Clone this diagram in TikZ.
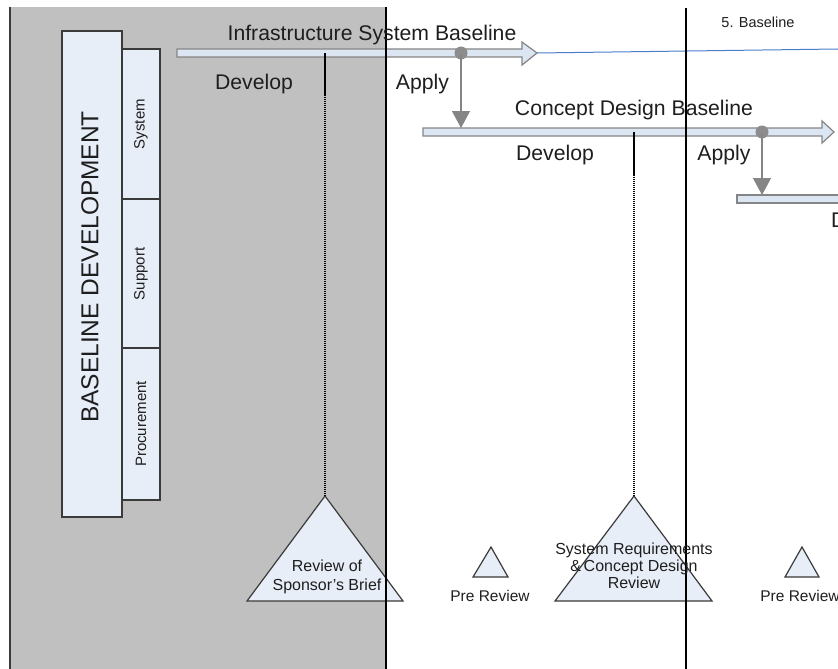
\documentclass[tikz,border=0pt]{standalone}
\usepackage{fontspec}
\setmainfont{Liberation Sans}
\usetikzlibrary{arrows.meta}

\definecolor{panel}{HTML}{C0C0C0}
\definecolor{boxfill}{HTML}{E8EEF8}
\definecolor{barfill}{HTML}{DCE6F2}
\definecolor{barline}{HTML}{858585}
\definecolor{dotgray}{HTML}{8C8C8C}
\definecolor{ink}{HTML}{1E1E1E}
\definecolor{edge}{HTML}{3A3A3A}
\definecolor{linkblue}{HTML}{4A7EC8}

\tikzset{
  lbl/.style={font=\fontsize{21.2}{25}\selectfont, text=ink, inner sep=0, anchor=base},
  revlbl/.style={font=\fontsize{16}{19}\selectfont, text=ink, inner sep=0, align=center},
  prelbl/.style={font=\fontsize{15.5}{18}\selectfont, text=ink, inner sep=0, anchor=base},
  sidebox/.style={draw=edge, line width=1.2pt, fill=boxfill},
  sidelbl/.style={font=\fontsize{15}{18}\selectfont, text=ink, inner sep=0, rotate=90},
  baseline bar/.style={draw=barline, line width=1.2pt, fill=barfill},
  hub/.style={circle, fill=dotgray, minimum size=13pt, inner sep=0},
  drop/.style={draw=barline, line width=1.3pt, -{Triangle[length=17pt,width=18pt]}, shorten <=2pt},
  milestone/.style={draw=edge, line width=1.2pt, fill=boxfill},
  solidlink/.style={draw=black, line width=1.1pt},
  dotlink/.style={draw=black, line width=1.1pt, dash pattern=on 1pt off 1pt},
  divider/.style={draw=black, line width=1.2pt}
}

\begin{document}
\begin{tikzpicture}[x=1pt,y=-1pt]
\useasboundingbox (0,0) rectangle (838,669);
\clip (0,0) rectangle (838,669);

% shaded development phase
\fill[panel] (10,7) rectangle (386,669);
\draw[edge, line width=1.5pt] (10,7) -- (10,669);

% side panel: baseline development and its three parts
\draw[sidebox] (122,49) rectangle (160,199);
\draw[sidebox] (122,199) rectangle (160,348);
\draw[sidebox] (122,348) rectangle (160,500);
\draw[sidebox] (62,31) rectangle (122,517);
\node[font=\fontsize{24.5}{28}\selectfont, text=ink, inner sep=0, rotate=90] (bd) at (90,267) {BASELINE DEVELOPMENT};
\node[sidelbl] (sys) at (141,124) {System};
\node[sidelbl] (sup) at (141,274) {Support};
\node[sidelbl] (proc) at (141,424) {Procurement};

% baseline bars
\draw[baseline bar] (177,49) -- (522,49) -- (522,42) -- (537,53) -- (522,65) -- (522,57) -- (177,57) -- cycle;
\coordinate (tip1) at (537,53);
\draw[baseline bar] (423,128) -- (822,128) -- (822,121) -- (834,132) -- (822,143) -- (822,136) -- (423,136) -- cycle;
\draw[baseline bar] (737,195) -- (860,195) -- (860,203) -- (737,203) -- cycle;

\coordinate (blueend) at (838,49);
\draw[linkblue, line width=1pt] (tip1) -- (blueend);

% apply hand-overs
\node[hub] (hub1) at (461,53) {};
\node[hub] (hub2) at (762,132) {};
\coordinate (land1) at (461,128);
\coordinate (land2) at (762,195);
\draw[drop] (hub1.center) -- (land1);
\draw[drop] (hub2.center) -- (land2);

% milestone reviews
\coordinate (apexA) at (325,496);
\coordinate (apexB) at (634,496);
\draw[milestone] (apexA) -- (403,601) -- (247,601) -- cycle;
\draw[milestone] (491,547) -- (508,577) -- (473,577) -- cycle;
\draw[milestone] (apexB) -- (712,601) -- (555,601) -- cycle;
\draw[milestone] (802,547) -- (819,577) -- (785,577) -- cycle;

% gate markers linking development to reviews
\coordinate (gateA) at (325,53);
\coordinate (gateAe) at (325,95);
\coordinate (gateB) at (634,132);
\coordinate (gateBe) at (634,175);
\draw[solidlink] (gateA) -- (gateAe);
\draw[dotlink] (gateAe) -- (apexA);
\draw[solidlink] (gateB) -- (gateBe);
\draw[dotlink] (gateBe) -- (apexB);

% phase dividers
\draw[divider] (386,7) -- (386,669);
\draw[divider] (686,8) -- (686,669);

% labels
\node[lbl] (isb) at (372,40.5) {Infrastructure System Baseline};
\node[lbl] (dev1) at (254,89) {Develop};
\node[lbl] (app1) at (422.5,89) {Apply};
\node[lbl] (cdb) at (634,115) {Concept Design Baseline};
\node[lbl] (dev2) at (555,160) {Develop};
\node[lbl] (app2) at (724,160) {Apply};
\node[lbl, anchor=base west] (dev3) at (831,227) {Develop};
\node[font=\fontsize{14.5}{17}\selectfont, text=ink, inner sep=0] (b5) at (758,22) {5. Baseline};

\node[revlbl] (revA) at (327,577) {Review of\\Sponsor's Brief};
\node[revlbl, font=\fontsize{16}{17}\selectfont] (revB) at (634,566) {System Requirements\\\&\,Concept Design\\Review};
\node[prelbl] (preA) at (490,601) {Pre Review};
\node[prelbl] (preB) at (800,601) {Pre Review};
\end{tikzpicture}
\end{document}
